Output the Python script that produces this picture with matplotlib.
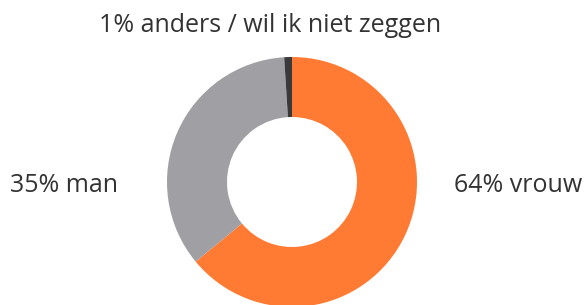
import matplotlib
matplotlib.use("Agg")
import matplotlib.pyplot as plt

labels = ["64% vrouw", "35% man", "1% anders / wil ik niet zeggen"]
values = [64, 35, 1]
colors = ["#FF7A33", "#A0A0A4", "#3A3A3C"]

W, H = 585, 305
fig = plt.figure(figsize=(W / 100, H / 100), dpi=100)
cx, cy, r = 292, 182, 125
ax = fig.add_axes([(cx - r) / W, (H - cy - r) / H, 2 * r / W, 2 * r / H])
ax.pie(values, colors=colors, startangle=90, counterclock=False, radius=1,
       wedgeprops=dict(width=0.48, edgecolor="none"))
ax.set_xlim(-1, 1)
ax.set_ylim(-1, 1)
ax.set_aspect("equal")
ax.axis("off")
for p in ax.patches:
    p.set_clip_on(False)

tc = "#333333"
fs = 18
fam = "Open Sans"
fig.text(270 / W, 1 - 32 / H, labels[2], ha="center", va="baseline", fontsize=fs, color=tc, family=fam)
fig.text(10 / W, 1 - 192 / H, labels[1], ha="left", va="baseline", fontsize=fs, color=tc, family=fam)
fig.text(582 / W, 1 - 192 / H, labels[0], ha="right", va="baseline", fontsize=fs, color=tc, family=fam)

fig.savefig("out.png", dpi=100)
